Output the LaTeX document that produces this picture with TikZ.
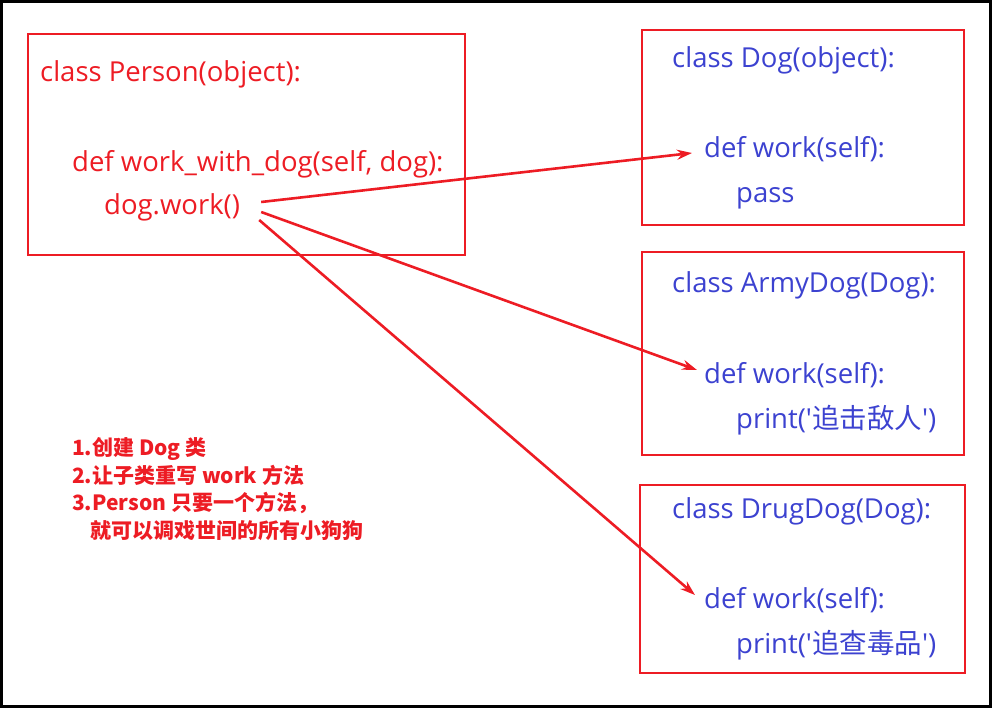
\documentclass[tikz,border=0pt]{standalone}
\usepackage{fontspec}
\setmainfont{Open Sans}
\newfontfamily\cjk{Noto Sans CJK SC}
\usepackage{tikz}
\usetikzlibrary{arrows.meta,positioning,calc}
\definecolor{codered}{RGB}{237,28,36}
\definecolor{codeblue}{RGB}{60,66,208}
\newcommand{\sq}{\textquotesingle}

\begin{document}
\begin{tikzpicture}[x=1pt, y=-1pt,
  box/.style={draw=codered, line width=1.8pt},
  code/.style={anchor=base west, inner sep=0pt, font=\fontsize{27.5}{32}\selectfont},
  pcode/.style={code, text=codered},
  dcode/.style={code, text=codeblue},
  note/.style={anchor=base west, inner sep=0pt, text=codered, font=\cjk\fontsize{21}{25}\selectfont\bfseries},
  arr/.style={-{Stealth[length=15pt, width=10pt]}, draw=codered, line width=2.6pt}]
\useasboundingbox (0,0) rectangle (992,708);
\draw[line width=3pt] (1.5,1.5) rectangle (990.5,706.5);
% boxes
\draw[box] (28,34) rectangle (465,255);
\draw[box] (642,30) rectangle (964,225);
\draw[box] (642,252) rectangle (964,455);
\draw[box] (640,485) rectangle (965,673);
% Person
\node[pcode] (pclass) at (40,82) {class Person(object):};
\node[pcode] (pdef) at (72,172) {def work\_with\_dog(self, dog):};
\node[pcode] (pwork) at (104,215) {dog.work()};
% Dog
\node[dcode] (dclass) at (672,68) {class Dog(object):};
\node[dcode] (ddef) at (704,158) {def work(self):};
\node[dcode] (dpass) at (736,203) {pass};
% ArmyDog
\node[dcode] (aclass) at (672,293) {class ArmyDog(Dog):};
\node[dcode] (adef) at (704,383) {def work(self):};
\node[dcode] (aprint) at (736,428) {print(\sq{\cjk 追击敌人}\sq)};
% DrugDog
\node[dcode] (gclass) at (672,518) {class DrugDog(Dog):};
\node[dcode] (gdef) at (704,608) {def work(self):};
\node[dcode] (gprint) at (736,653) {print(\sq{\cjk 追查毒品}\sq)};
% notes
\node[note] (n1) at (72,455) {1.创建 Dog 类};
\node[note] (n2) at (72,483) {2.让子类重写 work 方法};
\node[note] (n3) at (72,510) {3.Person 只要一个方法，};
\node[note] (n4) at (90,538) {就可以调戏世间的所有小狗狗};
% calls
\coordinate (c1) at ($(pwork.base east)+(21,-13)$);
\coordinate (c2) at ($(pwork.base east)+(21,-3)$);
\coordinate (c3) at ($(pwork.base east)+(19,5)$);
\draw[arr] (c1) -- ($(ddef.base west)+(-12,-5)$);
\draw[arr] (c2) -- ($(adef.base west)+(-7,-13)$);
\draw[arr] (c3) -- ($(gdef.base west)+(-9,-13)$);
\end{tikzpicture}
\end{document}
